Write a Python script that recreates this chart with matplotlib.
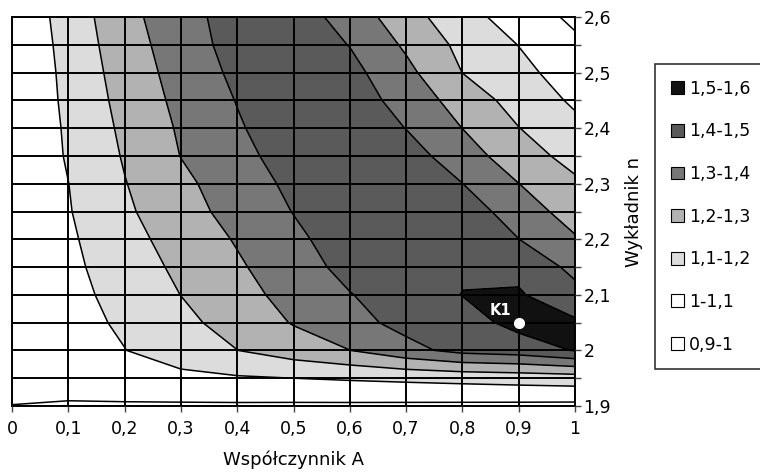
import matplotlib
matplotlib.use("Agg")
import matplotlib.pyplot as plt
from matplotlib.patches import Patch
import numpy as np

plt.rcParams['font.family'] = ['DejaVu Sans']

# Dane: współczynnik A (oś x), wykładnik n (oś y)
A = [0.0, 0.1, 0.2, 0.3, 0.4, 0.5, 0.6, 0.7, 0.8, 0.9, 1.0]
n = [1.9, 1.95, 2.0, 2.05, 2.1, 2.15, 2.2, 2.25, 2.3, 2.35, 2.4, 2.45, 2.5, 2.55, 2.6]

# wartości, wiersze = kolejne n
z_190 = [0.9995, 0.993, 0.99, 0.988, 0.987, 0.985, 0.984, 0.982, 0.98, 0.978, 0.975]
z_195 = [1.01, 1.03, 1.055, 1.075, 1.09, 1.1, 1.11, 1.12, 1.13, 1.14, 1.15]
z_200 = [1.01, 1.054, 1.098, 1.151, 1.199, 1.25, 1.299, 1.37, 1.43, 1.45, 1.505]
z_205 = [1.01, 1.062, 1.116, 1.175, 1.239, 1.306, 1.367, 1.43, 1.46, 1.53, 1.515]
z_210 = [1.01, 1.07, 1.133, 1.201, 1.267, 1.332, 1.396, 1.45, 1.502, 1.51, 1.43]
z_215 = [1.01, 1.078, 1.149, 1.22, 1.287, 1.357, 1.429, 1.47, 1.49, 1.475, 1.374]
z_220 = [1.01, 1.085, 1.166, 1.24, 1.308, 1.379, 1.449, 1.48, 1.48, 1.401, 1.31]
z_225 = [1.01, 1.094, 1.184, 1.262, 1.334, 1.403, 1.45, 1.475, 1.45, 1.354, 1.255]
z_230 = [1.01, 1.099, 1.196, 1.278, 1.351, 1.421, 1.46, 1.47, 1.401, 1.301, 1.215]
z_235 = [1.01, 1.109, 1.208, 1.302, 1.37, 1.445, 1.47, 1.44, 1.35, 1.24, 1.17]
z_240 = [1.006, 1.114, 1.219, 1.312, 1.389, 1.462, 1.47, 1.398, 1.299, 1.202, 1.125]
z_245 = [1.006, 1.121, 1.231, 1.325, 1.404, 1.46, 1.45, 1.363, 1.257, 1.162, 1.085]
z_250 = [1.004, 1.127, 1.243, 1.338, 1.421, 1.45, 1.43, 1.326, 1.199, 1.129, 1.05]
z_255 = [1.006, 1.135, 1.255, 1.351, 1.437, 1.46, 1.397, 1.285, 1.174, 1.098, 1.02]
z_260 = [1.013, 1.143, 1.267, 1.365, 1.44, 1.45, 1.359, 1.24, 1.136, 1.055, 0.98]

Z = np.array([z_190, z_195, z_200, z_205, z_210, z_215, z_220, z_225,
              z_230, z_235, z_240, z_245, z_250, z_255, z_260])

levels = [0.9, 1.0, 1.1, 1.2, 1.3, 1.4, 1.5, 1.6]
band_labels = ["0,9-1", "1-1,1", "1,1-1,2", "1,2-1,3", "1,3-1,4", "1,4-1,5", "1,5-1,6"]
band_colors = ["#ffffff", "#ffffff", "#dcdcdc", "#b2b2b2", "#777777", "#5a5a5a", "#111111"]

x_ticks = [0.0, 0.1, 0.2, 0.3, 0.4, 0.5, 0.6, 0.7, 0.8, 0.9, 1.0]
x_labels = ["0", "0,1", "0,2", "0,3", "0,4", "0,5", "0,6", "0,7", "0,8", "0,9", "1"]
y_labels = ["1,9", "", "2", "", "2,1", "", "2,2", "", "2,3", "", "2,4", "", "2,5", "", "2,6"]

k1_A, k1_n = 0.9, 2.05

fig = plt.figure(figsize=(7.6, 4.73), dpi=100)
ax = fig.add_axes([12 / 760, 67 / 473, 563 / 760, 389 / 473])

ax.contourf(A, n, Z, levels=levels, colors=band_colors)
ax.contour(A, n, Z, levels=levels[1:-1], colors="black", linewidths=1.1)

ax.set_xlim(0, 1)
ax.set_ylim(1.9, 2.6)
ax.set_xticks(x_ticks)
ax.set_xticklabels(x_labels)
ax.yaxis.tick_right()
ax.set_yticks(n)
ax.set_yticklabels(y_labels)
ax.tick_params(axis="both", labelsize=12.5, length=4, width=1, color="#444444")
ax.tick_params(axis="x", pad=6)
ax.tick_params(axis="y", pad=2)

ax.set_axisbelow(False)
ax.grid(True, color="black", linewidth=1.4)
for s in ax.spines.values():
    s.set_linewidth(1.4)

# punkt K1
ax.plot(k1_A, k1_n, "o", color="white", markersize=7, zorder=5)
ax.text(k1_A - 0.033, k1_n + 0.021, "K1", color="white", fontsize=10.5,
        fontweight="bold", ha="center", va="center", zorder=5)

ax.set_xlabel("Współczynnik A", fontsize=13, labelpad=9)
ax.yaxis.set_label_position("right")
ax.set_ylabel("Wykładnik n", fontsize=13, labelpad=10)

handles = [Patch(facecolor=c, edgecolor="black", linewidth=0.8) for c in band_colors[::-1]]
leg = fig.legend(handles, band_labels[::-1], loc="upper left",
                 bbox_to_anchor=(655 / 760, 1 - 64 / 473, 115 / 760, 0.0),
                 mode="expand", borderaxespad=0,
                 frameon=True, fancybox=False, edgecolor="black", fontsize=12.5,
                 handlelength=0.75, handleheight=0.75, handletextpad=0.3,
                 labelspacing=1.42, borderpad=0.9)
leg.get_frame().set_linewidth(1.2)

fig.savefig("out.png", dpi=100)
